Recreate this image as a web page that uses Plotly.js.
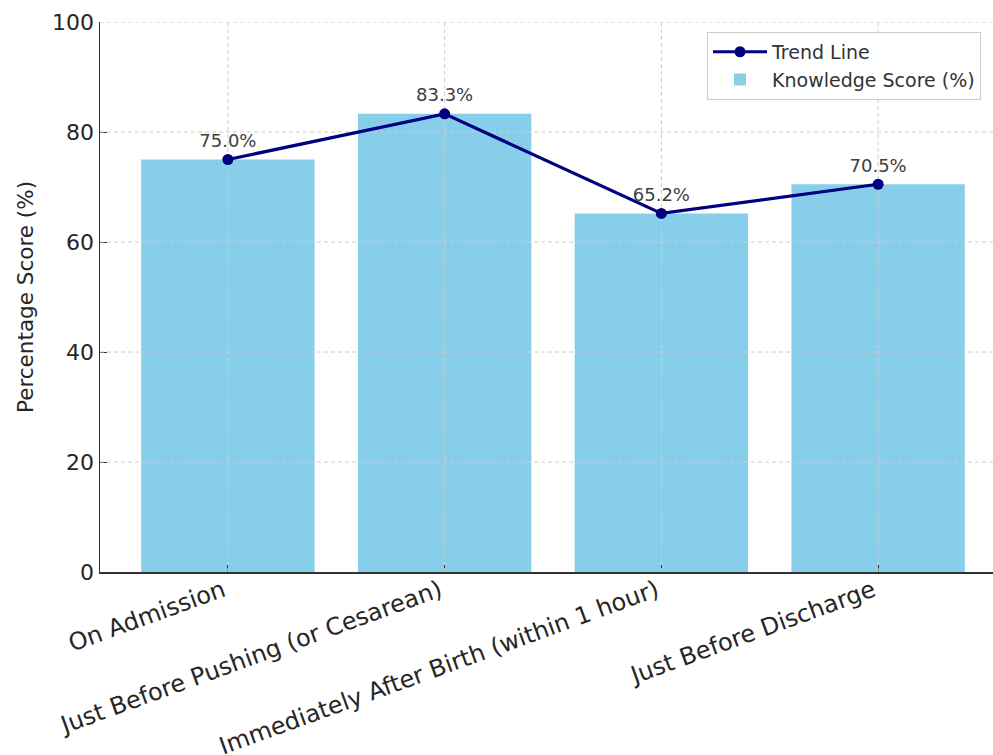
<!DOCTYPE html>
<html>
<head>
<meta charset="utf-8">
<script src="https://cdn.plot.ly/plotly-3.0.1.min.js"></script>
<style>html,body{margin:0;padding:0;background:#fff;overflow:hidden}</style>
</head>
<body>
<div id="chart"></div>
<script>
const categories = ["On Admission", "Just Before Pushing (or Cesarean)", "Immediately After Birth (within 1 hour)", "Just Before Discharge"];
const scores = [75.0, 83.3, 65.2, 70.5];
const labels = ["75.0%", "83.3%", "65.2%", "70.5%"];
const yTicks = [0, 20, 40, 60, 80, 100];

const xRange = [-0.59, 3.59];
const yRange = [0, 100];

const barTrace = {
  type: "bar", x: categories, y: scores, name: "Knowledge Score (%)",
  marker: {color: "#87CEEB"}, width: 0.8, hoverinfo: "skip"
};
const lineTrace = {
  type: "scatter", mode: "lines+markers+text", x: categories, y: scores,
  xaxis: "x2", yaxis: "y2",
  name: "Trend Line", text: labels, textposition: "top center",
  textfont: {family: "DejaVu Sans", size: 18, color: "#404040"},
  line: {color: "#000080", width: 3.2}, marker: {color: "#000080", size: 11},
  cliponaxis: false
};

// grid lines: above the bars, below the trend line (as in the reference), built from tick arrays
const gridStyle = {color: "#cccccc", width: 1, dash: "4px,3px"};
const gridShapes = [];
yTicks.slice(1).forEach(v => gridShapes.push({type: "line", layer: "below", xref: "x2", yref: "y2", x0: xRange[0], x1: xRange[1], y0: v, y1: v, line: gridStyle}));
categories.forEach(c => gridShapes.push({type: "line", layer: "below", xref: "x2", yref: "y2", x0: c, x1: c, y0: yRange[0], y1: yRange[1], line: gridStyle}));

const layout = {
  width: 1020, height: 755,
  margin: {l: 100, r: 14, t: 22, b: 183},
  paper_bgcolor: "#fff", plot_bgcolor: "rgba(0,0,0,0)",
  font: {family: "DejaVu Sans", color: "#262626"},
  showlegend: true,
  legend: {
    x: 0.67, y: 0.982, xanchor: "left", yanchor: "top", traceorder: "reversed",
    bgcolor: "rgba(255,255,255,0.9)", bordercolor: "#cccccc", borderwidth: 1,
    font: {family: "DejaVu Sans", size: 19, color: "#333"}, itemwidth: 54, tracegroupgap: 6
  },
  shapes: gridShapes,
  xaxis: {
    range: xRange, tickangle: -20, categoryorder: "array", categoryarray: categories,
    tickfont: {family: "DejaVu Sans", size: 24, color: "#262626"},
    ticks: "inside", ticklen: 7, tickcolor: "#333",
    ticklabelstandoff: -6, ticklabelshift: -5,
    showline: true, linecolor: "#333", linewidth: 1.5,
    showgrid: false
  },
  yaxis: {
    range: yRange, tickvals: yTicks,
    tickfont: {family: "DejaVu Sans", size: 22, color: "#262626"},
    ticks: "inside", ticklen: 7, tickcolor: "#333",
    showline: true, linecolor: "#333", linewidth: 1.5,
    showgrid: false, zeroline: false,
    title: {text: "Percentage Score (%)", font: {family: "DejaVu Sans", size: 21.5, color: "#262626"}, standoff: 12}
  },
  xaxis2: {anchor: "y2", domain: [0, 1], range: xRange, categoryorder: "array", categoryarray: categories, visible: false, showgrid: false},
  yaxis2: {anchor: "x2", domain: [0, 1], range: yRange, visible: false, showgrid: false, zeroline: false},
  bargap: 0.2
};

Plotly.newPlot("chart", [barTrace, lineTrace], layout, {displayModeBar: false, staticPlot: true});
</script>
</body>
</html>
